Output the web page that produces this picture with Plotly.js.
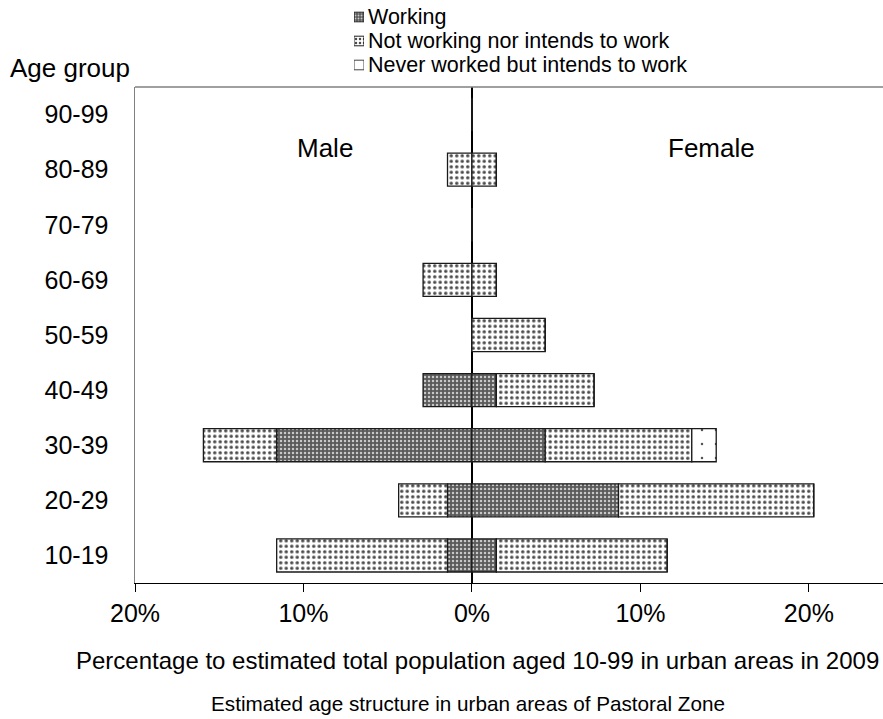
<!DOCTYPE html>
<html>
<head>
<meta charset="utf-8">
<script src="https://cdn.plot.ly/plotly-3.0.1.min.js"></script>
<style>html,body{margin:0;padding:0;background:#fff;}#chart{width:883px;height:719px;}</style>
</head>
<body>
<div id="chart"></div>
<script>
const ageGroups = ["10-19","20-29","30-39","40-49","50-59","60-69","70-79","80-89","90-99"];
const maleWorking    = [1.45, 1.45, 11.59, 2.90, 0, 0,    0, 0,    0];
const maleNotWorking = [10.14, 2.90, 4.35, 0,   0, 2.90, 0, 1.45, 0];
const femaleWorking    = [1.45, 8.70, 4.35, 1.45, 0,    0,    0, 0,    0];
const femaleNotWorking = [10.14, 11.59, 8.70, 5.80, 4.35, 1.45, 0, 1.45, 0];
const femaleNeverWorked = [0, 0, 1.45, 0, 0, 0, 0, 0, 0];
const seriesNames = ["Working", "Not working nor intends to work", "Never worked but intends to work"];
const xTickVals = [-20, -10, 0, 10, 20];
const xTickText = ["20%", "10%", "0%", "10%", "20%"];

const FONT = "Liberation Sans, Arial, sans-serif";
const patWorking = {shape: ".", bgcolor: "#5a5a5a", fgcolor: "#c8c8c8", size: 4, solidity: 0.3, fillmode: "replace"};
const patNot = {shape: ".", bgcolor: "#ffffff", fgcolor: "#4a4a4a", size: 5.5, solidity: 0.3, fillmode: "replace"};
const patNever = {shape: ".", bgcolor: "#ffffff", fgcolor: "#555555", size: 14, solidity: 0.025, fillmode: "replace"};
const pats = [patWorking, patNot, patNever];
const lineStyle = {color: "#1a1a1a", width: 1.3};

// pixel geometry helpers (figure 883x719, margins l=135 r=0 t=0 b=136)
const W = 883, H = 719, ML = 135, MB = 136;
const PW = W - ML, PH = H - MB;
const px2x = p => (p - ML) / PW;
const px2y = p => (PH - p) / PH;

function bar(vals, sign, name, pat) {
  return {
    type: "bar", orientation: "h",
    y: ageGroups, x: vals.map(v => sign * v), width: 0.6,
    name: name, showlegend: false,
    marker: {color: pat.bgcolor, pattern: pat, line: lineStyle},
    hoverinfo: "skip"
  };
}

const data = [
  bar(maleWorking, -1, seriesNames[0], patWorking),
  bar(femaleWorking, 1, seriesNames[0], patWorking),
  bar(maleNotWorking, -1, seriesNames[1], patNot),
  bar(femaleNotWorking, 1, seriesNames[1], patNot),
  bar(femaleNeverWorked, 1, seriesNames[2], patNever)
];
// legend swatches (one small bar per series on its own little axis pair)
seriesNames.forEach((n, i) => {
  data.push({
    type: "bar", orientation: "h", xaxis: "x2", yaxis: "y2",
    y: [n], x: [1], width: 0.4, showlegend: false, hoverinfo: "skip",
    marker: {color: pats[i].bgcolor, pattern: Object.assign({}, pats[i], i === 2 ? {solidity: 0.0001} : {size: i === 0 ? 3 : 4}),
             line: {color: i === 2 ? "#444" : "#222", width: 1}}
  });
});

const legendTop = 5, legendRow = 24;
const legendAnn = seriesNames.map((n, i) => ({
  text: n, xref: "paper", yref: "paper", x: px2x(366), y: px2y(legendTop + legendRow * (i + 0.5)),
  xanchor: "left", yanchor: "middle", showarrow: false, font: {family: FONT, size: 21.5, color: "#000"}
}));

const layout = {
  width: W, height: H,
  margin: {l: ML, r: 0, t: 0, b: MB, pad: 0, autoexpand: false},
  paper_bgcolor: "#fff", plot_bgcolor: "#fff",
  barmode: "relative",
  font: {family: FONT, color: "#000"},
  showlegend: false,
  xaxis: {
    domain: [0, 1], anchor: "y",
    range: [-20, 24.4], tickvals: xTickVals, ticktext: xTickText,
    showgrid: false, zeroline: true, zerolinecolor: "#000", zerolinewidth: 1.3,
    showline: true, linecolor: "#000", linewidth: 1.3,
    ticks: "outside", ticklen: 8, tickcolor: "#000", tickwidth: 1,
    tickfont: {family: FONT, size: 25, color: "#000"}, fixedrange: true, automargin: false
  },
  yaxis: {
    domain: [0, px2y(87)], anchor: "x",
    type: "category", categoryarray: ageGroups, range: [-0.5, 8.5],
    showgrid: false, zeroline: false,
    showline: true, linecolor: "#808080", linewidth: 1.5,
    ticks: "", ticklabelstandoff: 20,
    tickfont: {family: FONT, size: 25, color: "#000"}, fixedrange: true, automargin: false
  },
  xaxis2: {domain: [px2x(354), px2x(364)], anchor: "y2", range: [0, 1], visible: false, fixedrange: true},
  yaxis2: {domain: [px2y(legendTop + 3 * legendRow), px2y(legendTop)], anchor: "x2", type: "category",
           categoryarray: seriesNames.slice().reverse(), range: [-0.5, 2.5], visible: false, fixedrange: true},
  shapes: [
    {type: "line", xref: "x domain", yref: "y domain", x0: 0, x1: 1, y0: 1, y1: 1, line: {color: "#808080", width: 1.5}}
  ],
  annotations: [
    {text: "Male", xref: "x", yref: "y", x: -8.7, y: 7.4, showarrow: false, font: {family: FONT, size: 26}},
    {text: "Female", xref: "x", yref: "y", x: 14.2, y: 7.4, showarrow: false, font: {family: FONT, size: 26}},
    {text: "Age group", xref: "paper", yref: "paper", x: px2x(8), xanchor: "left", y: px2y(68), yanchor: "middle", showarrow: false, font: {family: FONT, size: 26}},
    {text: "Percentage to estimated total population aged 10-99 in urban areas in 2009", xref: "paper", yref: "paper", x: px2x(477), y: px2y(660), xanchor: "center", yanchor: "middle", showarrow: false, font: {family: FONT, size: 24}},
    {text: "Estimated age structure in urban areas of Pastoral Zone", xref: "paper", yref: "paper", x: px2x(468), y: px2y(703), xanchor: "center", yanchor: "middle", showarrow: false, font: {family: FONT, size: 20.7}}
  ].concat(legendAnn)
};

Plotly.newPlot("chart", data, layout, {displayModeBar: false, staticPlot: true});
</script>
</body>
</html>
